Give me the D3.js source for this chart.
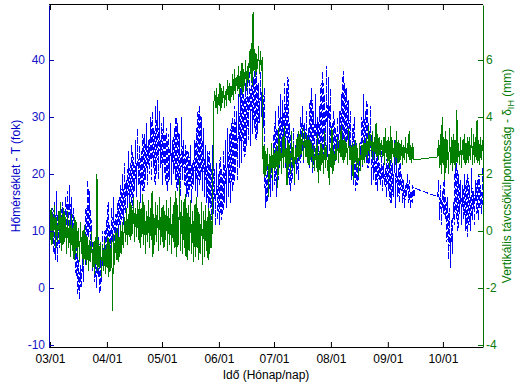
<!DOCTYPE html>
<html lang="hu">
<head>
<meta charset="UTF-8">
<title>Hőmérséklet és távcsőkülpontosság</title>
<script src="https://cdnjs.cloudflare.com/ajax/libs/d3/7.8.5/d3.min.js"></script>
<style>
  body { margin: 0; background: #fff; }
  text { font-family: "Liberation Sans", Arial, sans-serif; font-size: 12px; }
  .blue { fill: #0000c8; }
  .green { fill: #007a00; }
</style>
</head>
<body>
<div id="chart"></div>
<script>
// daily values, day 0 = 03/01, null = no measurement (09/16 - 09/27)
var startDay = Date.UTC(2012, 2, 1);
var nDays = 236;

// temperature T (fok): daily minimum and maximum
var tempMin = [
  9, 8, 6, 5, 4.5, 7, 9, 10, 9, 8,
  10, 11, 9, 7,
  2, -1, -2, 0, 1,
  4, 8, 9, 7,
  3, 1, 0, 2, -1, 1,
  3, 5, 6, 4, 7, 8, 6,
  8, 9, 10, 12, 11, 13, 14,
  13, 15, 14, 17, 16, 18, 15, 17,
  17, 19, 18, 20, 19, 21, 18,
  20, 19, 21, 18, 20,
  18, 17, 19, 18, 20, 19,
  17, 18, 16, 19, 18, 16,
  16, 17, 15, 18, 17, 16,
  18, 19, 17, 16, 15,
  13, 14, 12, 13, 11, 12, 11,
  12, 13, 15, 14, 16,
  15, 17, 18, 20, 19,
  21, 22, 24, 23, 25,
  26, 25, 27, 28, 26,
  27, 29, 30, 28,
  14, 15, 16,
  16, 17, 18, 16,
  19, 21, 22, 23, 21, 24,
  18, 17, 19, 18, 20, 19,
  22, 23, 22, 24, 23,
  21, 22, 20, 23, 22, 21,
  23, 24, 22, 25, 23, 24,
  22, 23, 22, 24, 23,
  24, 25, 23, 24, 26, 24,
  19, 18, 17, 18, 19,
  22, 21, 23, 22, 21, 22,
  18, 19, 18, 17, 19, 18,
  17, 18, 16, 17, 15,
  15, 16, 14, 16, 15, 17,
  15, 14, 16, 15, 14, 15, 16,
  null, null, null, null, null, null, null, null, null, null, null, null,
  16, 12, 11, 13, 12,
  8, 5, 3.5, 6,
  11, 12, 10, 13, 11, 12,
  10, 9, 11, 10, 12, 11,
  13, 12, 14, 13
];
var tempMax = [
  12, 14, 15, 17, 13, 12, 15, 14, 16, 17,
  18, 16, 14, 12,
  8, 5, 4, 6, 8,
  14, 19, 17, 12,
  8, 6, 7, 9, 5, 10,
  10, 12, 15, 11, 14, 16, 13,
  15, 16, 18, 20, 22, 19, 24,
  22, 25, 23, 26, 28, 25, 24, 27,
  27, 29, 26, 30, 31, 28, 32,
  33, 31, 29, 30, 27,
  28, 27, 29, 26, 28, 30,
  29, 27, 30, 26, 25, 24,
  24, 25, 22, 26, 28, 31,
  32, 30, 28, 25, 24,
  24, 22, 25, 21, 22, 20, 23,
  21, 24, 26, 28, 27,
  29, 30, 32, 31, 34,
  35, 37, 34, 36, 38,
  38, 40, 37, 39, 38,
  36, 38, 37, 35,
  20, 22, 23,
  24, 27, 31, 28,
  32, 34, 33, 36, 35, 37,
  29, 27, 28, 25, 27, 26,
  30, 32, 29, 31, 28,
  33, 35, 31, 34, 30, 32,
  36, 38, 34, 39, 37, 35,
  29, 31, 28, 30, 31,
  34, 38, 36, 35, 33, 31,
  28, 30, 26, 24, 25,
  30, 34, 31, 33, 29, 32,
  25, 24, 23, 25, 22, 24,
  22, 21, 24, 26, 25,
  22, 26, 23, 21, 22, 20,
  19, 18, 20, 19, 17, 18, 17.5,
  null, null, null, null, null, null, null, null, null, null, null, null,
  19, 18, 17, 19, 16,
  16, 14, 12, 15,
  21, 22, 20, 19, 18, 20,
  19, 20, 18, 21, 17, 19,
  19, 20, 18, 21
];

// vertical eccentricity dIH (mm): daily low and high
var dispLow = [
  -0.3, -0.5, -0.2, -0.6, -0.4, -0.3, -0.7, -0.5, -0.4, -0.8,
  -0.6, -0.9, -0.7, -1.0, -0.8, -0.9, -1.1, -0.8, -1.2, -1.0,
  -1.2, -1.4, -1.1, -1.3, -1.5, -1.2, -1.4, -1.3, -1.6, -1.4,
  -1.5, -1.3, -1.6, -1.4, -2.8, -1.2, -1.0, -1.1, -0.9,
  -0.8, -0.6, -0.4, -0.5, -0.2, -0.3, -0.1, -0.4, -0.2,
  -0.3, -0.6, -0.2, -0.5, -0.8, -0.4, -0.6, -0.3, -0.9, -0.5, -0.4, -0.7, -0.5,
  -0.4, -0.6, -0.3, -0.7, -0.5, -0.8, -0.4, -0.6, -0.9, -0.5, -0.7,
  -0.8, -0.6, -0.9, -1.0, -0.7, -0.8, -1.1, -0.9, -0.6, -1.0, -0.8, -1.2, -0.9, -0.7, -1.0, -0.8, -0.6,
  4.2, 4.3, 4.1, 4.4, 4.2, 4.5, 4.3, 4.4, 4.6, 4.5,
  4.7, 4.6, 4.8, 4.9, 4.7, 5.0, 4.8, 5.1, 4.9,
  5.2, 5.5, 5.1, 5.6, 5.4, 5.7, 5.5, 5.6,
  2.0, 1.9, 2.1, 1.2, 2.0, 1.8, 2.1,
  2.2, 1.5, 2.3, 2.0, 2.2, 2.4, 1.6, 2.2, 2.0, 2.3, 1.7,
  2.4, 2.6, 2.5, 2.7, 2.5, 2.6, 2.4, 2.3, 2.5, 2.2,
  2.1, 2.2, 1.7, 2.1, 2.3, 2.0, 2.2, 2.1, 1.6, 2.2, 2.0, 2.3,
  2.5, 2.4, 2.6, 2.5, 2.4, 2.6, 2.3, 2.5,
  2.3, 1.8, 2.4, 2.2, 1.9, 2.1, 2.3, 2.4,
  2.6, 2.5, 2.7, 2.6, 2.5, 2.7, 2.6, 2.5, 2.6,
  2.6, 2.3, 2.6, 2.4, 2.2, 2.4, 2.6, 2.3, 2.4,
  2.4, 2.5, 2.3, 2.5, 2.4, 2.6, 2.5, 2.4, 2.5,
  null, null, null, null, null, null, null, null, null, null, null, null,
  2.6, 2.2, 2.0, 2.3, 1.8, 2.2, 2.0, 2.3, 2.1,
  2.3, 2.2, 2.4, 2.3, 2.2, 2.5, 2.3, 2.4,
  2.4, 2.5, 2.3, 2.4, 2.5, 2.4, 2.3, 2.5
];
var dispHigh = [
  0.8, 0.6, 0.9, 0.5, 0.7, 1.0, 0.6, 0.8, 0.5, 0.7,
  0.4, 0.6, 0.2, 0.5, 0.3, 0.1, 0.3, 0.0, 0.2, -0.1,
  -0.2, -0.3, 0.0, -0.4, -0.2, 2.0, -0.3, -0.4, -0.5, -0.3,
  -0.5, -0.2, -0.4, -0.3, -0.1, 0.0, 0.1, -0.2, 0.2,
  0.3, 0.5, 0.8, 0.6, 1.0, 0.9, 1.2, 0.8, 1.1,
  1.0, 0.8, 1.3, 0.9, 0.7, 1.1, 0.8, 1.4, 0.6, 1.0, 0.9, 1.2, 0.8,
  0.9, 0.7, 1.1, 0.8, 1.2, 0.6, 1.0, 1.4, 0.9, 1.86, 1.1,
  1.0, 1.3, 0.8, 0.9, 1.1, 0.7, 0.9, 1.2, 0.8, 0.6, 1.0, 0.7, 0.9, 0.5, 0.8, 0.6, 0.9,
  4.9, 5.0, 4.8, 5.2, 5.0, 5.1, 4.9, 5.3, 5.2, 5.1,
  5.5, 5.7, 5.4, 5.8, 5.6, 5.9, 5.7, 6.0, 5.8,
  6.3, 6.6, 7.7, 6.4, 6.2, 6.5, 6.3, 6.1,
  3.0, 2.8, 2.9, 2.7, 3.1, 2.9, 2.8,
  3.0, 3.6, 2.9, 3.3, 3.7, 2.9, 3.2, 3.0, 3.5, 3.1, 2.9,
  3.3, 3.5, 3.4, 3.6, 3.5, 3.4, 3.3, 3.2, 3.1, 3.0,
  2.9, 3.4, 2.8, 3.1, 2.9, 3.5, 3.0, 2.7, 2.9, 3.6, 2.8, 3.0,
  3.3, 3.2, 3.7, 3.2, 3.3, 3.1, 3.6, 3.0,
  3.1, 3.0, 3.2, 2.9, 3.1, 3.0, 3.2, 3.1,
  3.3, 3.7, 3.4, 3.5, 3.3, 3.8, 3.4, 3.3, 3.2,
  3.3, 3.6, 3.2, 3.3, 3.7, 3.2, 3.1, 3.5, 3.2,
  3.1, 3.2, 3.0, 3.3, 3.1, 3.5, 3.0, 3.1, 2.5,
  null, null, null, null, null, null, null, null, null, null, null, null,
  3.2, 3.4, 4.0, 3.3, 3.5, 3.2, 3.6, 3.3, 3.4,
  3.2, 4.25, 3.1, 3.3, 3.2, 3.4, 3.1, 3.3,
  3.3, 3.6, 3.4, 3.3, 3.9, 3.2, 3.3, 3.2
];

var monthTicks = d3.range(2, 10).map(function (m) { return new Date(Date.UTC(2012, m, 1)); });
var leftTicks = [-10, 0, 10, 20, 30, 40];
var rightTicks = [-4, -2, 0, 2, 4, 6];

var width = 528, height = 385,
    plotL = 49, plotR = 483, plotT = 5, plotB = 347,
    tickLen = 5;

var svg = d3.select('#chart').append('svg')
    .attr('width', width)
    .attr('height', height);

var x = d3.scaleUtc()
    .domain([new Date(Date.UTC(2012, 1, 29, 11)), new Date(Date.UTC(2012, 9, 22, 20))])
    .range([plotL, plotR]);
var yL = d3.scaleLinear().domain([-10.35, 49.65]).range([plotB, plotT]);
var yR = d3.scaleLinear().domain([-4.07, 7.93]).range([plotB, plotT]);

function hour(day, h) { return new Date(startDay + (day * 24 + h) * 3600000); }

// two samples a day, gaps skipped so the line runs straight across them
var tempPts = [], dispPts = [];
for (var i = 0; i < nDays; i++) {
  if (tempMin[i] != null) {
    tempPts.push({ t: hour(i, 5), v: tempMin[i] });
    tempPts.push({ t: hour(i, 15), v: tempMax[i] });
  }
  if (dispLow[i] != null) {
    dispPts.push({ t: hour(i, 2), v: dispLow[i] });
    dispPts.push({ t: hour(i, 14), v: dispHigh[i] });
  }
}

svg.append('clipPath').attr('id', 'plotclip')
  .append('rect').attr('x', plotL).attr('y', plotT)
  .attr('width', plotR - plotL).attr('height', plotB - plotT);

var plot = svg.append('g').attr('clip-path', 'url(#plotclip)');

plot.append('path')
    .datum(tempPts)
    .attr('d', d3.line().x(function (d) { return x(d.t); }).y(function (d) { return yL(d.v); }))
    .attr('fill', 'none')
    .attr('stroke', '#0000ff')
    .attr('stroke-width', 1)
    .attr('stroke-dasharray', '6,2')
    .attr('shape-rendering', 'crispEdges');

plot.append('path')
    .datum(dispPts)
    .attr('d', d3.line().x(function (d) { return x(d.t); }).y(function (d) { return yR(d.v); }))
    .attr('fill', 'none')
    .attr('stroke', '#007f00')
    .attr('stroke-width', 1)
    .attr('shape-rendering', 'crispEdges');

// x axes: bottom with labels, top ticks only
svg.append('g')
    .attr('transform', 'translate(0,' + plotB + ')')
    .call(d3.axisBottom(x).tickValues(monthTicks).tickFormat(d3.utcFormat('%m/%d'))
      .tickSizeInner(-tickLen).tickSizeOuter(0).tickPadding(7))
    .call(function (g) {
      g.select('.domain').attr('stroke', '#000').attr('d', 'M' + plotL + ',0.5H' + plotR);
      g.selectAll('.tick line').attr('stroke', '#000');
      g.selectAll('.tick text').attr('fill', '#000').attr('font-size', 12)
        .attr('font-family', '"Liberation Sans", Arial, sans-serif');
    });

svg.append('g')
    .attr('transform', 'translate(0,' + plotT + ')')
    .call(d3.axisTop(x).tickValues(monthTicks).tickFormat('')
      .tickSizeInner(-tickLen).tickSizeOuter(0))
    .call(function (g) {
      g.select('.domain').attr('stroke', '#000').attr('d', 'M' + plotL + ',-0.5H' + plotR);
      g.selectAll('.tick line').attr('stroke', '#000');
    });

// left axis (temperature)
svg.append('g')
    .attr('transform', 'translate(' + plotL + ',0)')
    .call(d3.axisLeft(yL).tickValues(leftTicks).tickFormat(function (d) { return String(d); })
      .tickSizeInner(-tickLen).tickSizeOuter(0).tickPadding(4))
    .call(function (g) {
      g.select('.domain').attr('stroke', '#0000b0');
      g.selectAll('.tick line').attr('stroke', '#0000b0');
      g.selectAll('.tick text').attr('fill', '#1414c8').attr('font-size', 12)
        .attr('font-family', '"Liberation Sans", Arial, sans-serif');
    });

// right axis (displacement)
svg.append('g')
    .attr('transform', 'translate(' + plotR + ',0)')
    .call(d3.axisRight(yR).tickValues(rightTicks).tickFormat(function (d) { return String(d); })
      .tickSizeInner(-tickLen).tickSizeOuter(0).tickPadding(3))
    .call(function (g) {
      g.select('.domain').attr('stroke', '#007000');
      g.selectAll('.tick line').attr('stroke', '#007000');
      g.selectAll('.tick text').attr('fill', '#0a7a0a').attr('font-size', 12)
        .attr('font-family', '"Liberation Sans", Arial, sans-serif');
    });

// labels
svg.append('text')
    .attr('x', (plotL + plotR) / 2)
    .attr('y', 379)
    .attr('text-anchor', 'middle')
    .attr('fill', '#000')
    .text('Idő (Hónap/nap)');

svg.append('text')
    .attr('class', 'blue')
    .attr('transform', 'translate(20,' + (plotT + plotB) / 2 + ') rotate(-90)')
    .attr('text-anchor', 'middle')
    .text('Hőmérséklet - T (fok)');

var rl = svg.append('text')
    .attr('class', 'green')
    .attr('transform', 'translate(511,' + (plotT + plotB) / 2 + ') rotate(-90)')
    .attr('text-anchor', 'middle');
rl.append('tspan').text('Vertikális távcsökülpontosság - δ');
rl.append('tspan').attr('dy', 3).attr('font-size', 9).text('IH');
rl.append('tspan').attr('dy', -3).text(' (mm)');
</script>
</body>
</html>
